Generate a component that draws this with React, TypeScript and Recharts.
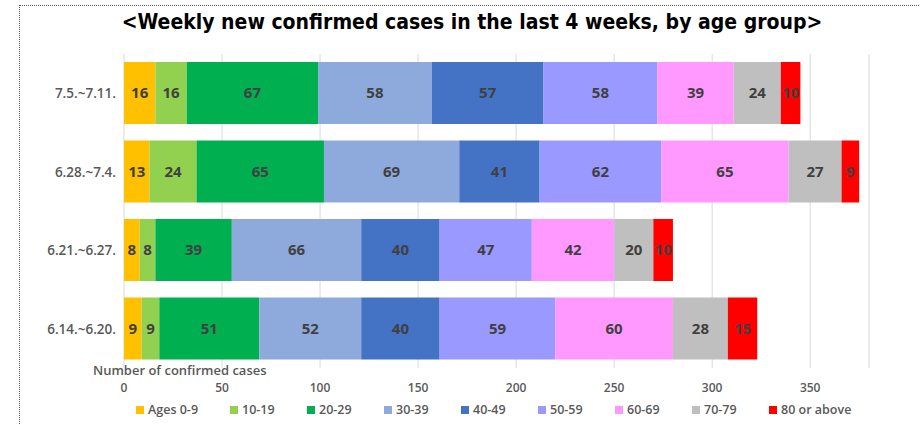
import { BarChart, Bar, XAxis, YAxis, CartesianGrid, Legend, LabelList } from 'recharts';

const WEEKS = ['7.5.~7.11.', '6.28.~7.4.', '6.21.~6.27.', '6.14.~6.20.'];

const AGES_0_9 = [16, 13, 8, 9];
const AGES_10_19 = [16, 24, 8, 9];
const AGES_20_29 = [67, 65, 39, 51];
const AGES_30_39 = [58, 69, 66, 52];
const AGES_40_49 = [57, 41, 40, 40];
const AGES_50_59 = [58, 62, 47, 59];
const AGES_60_69 = [39, 65, 42, 60];
const AGES_70_79 = [24, 27, 20, 28];
const AGES_80_UP = [10, 9, 10, 15];

const X_TICKS = [0, 50, 100, 150, 200, 250, 300, 350];

const SERIES = [
  { key: 'a0', name: 'Ages 0-9', values: AGES_0_9, color: '#FFC000' },
  { key: 'a10', name: '10-19', values: AGES_10_19, color: '#92D050' },
  { key: 'a20', name: '20-29', values: AGES_20_29, color: '#00B050' },
  { key: 'a30', name: '30-39', values: AGES_30_39, color: '#8EA9DB' },
  { key: 'a40', name: '40-49', values: AGES_40_49, color: '#4472C4' },
  { key: 'a50', name: '50-59', values: AGES_50_59, color: '#9999FF' },
  { key: 'a60', name: '60-69', values: AGES_60_69, color: '#FF99FF' },
  { key: 'a70', name: '70-79', values: AGES_70_79, color: '#BFBFBF' },
  { key: 'a80', name: '80 or above', values: AGES_80_UP, color: '#FF0000' },
];

const data = WEEKS.map((week, i) => {
  const row: Record<string, string | number> = { week };
  SERIES.forEach((s) => {
    row[s.key] = s.values[i];
  });
  return row;
});

const FONT = '"Open Sans", "Noto Sans", sans-serif';

const renderLegend = () => (
  <div style={{ display: 'flex', paddingLeft: 116, marginTop: 1, fontFamily: FONT }}>
    {SERIES.map((s) => (
      <div
        key={s.key}
        style={{
          display: 'flex',
          alignItems: 'center',
          width: s.key === 'a0' ? 94 : s.key === 'a80' ? 100 : 77,
          whiteSpace: 'nowrap',
          fontSize: 12.5,
          fontWeight: 600,
          color: '#595959',
        }}
      >
        <span style={{ width: 8, height: 8, background: s.color, marginRight: 4, display: 'inline-block' }} />
        {s.name}
      </div>
    ))}
  </div>
);

export default function App() {
  return (
    <div style={{ position: 'absolute', left: 0, top: 0, width: 920, height: 425, background: 'white' }}>
      <div
        style={{
          position: 'absolute',
          left: 19,
          top: 5,
          width: 901,
          height: 420,
          borderLeft: '1px dotted #555',
          borderTop: '1px dotted #555',
        }}
      />
      <div
        style={{
          position: 'absolute',
          top: 10,
          left: 0,
          width: 944,
          textAlign: 'center',
          fontFamily: '"DejaVu Sans", sans-serif',
          fontStretch: 'condensed',
          fontWeight: 'bold',
          fontSize: 21,
          color: '#000',
        }}
      >
        &lt;Weekly new confirmed cases in the last 4 weeks, by age group&gt;
      </div>
      <div
        style={{
          position: 'absolute',
          top: 361,
          left: 93,
          fontFamily: FONT,
          fontWeight: 600,
          fontSize: 13,
          color: '#595959',
        }}
      >
        Number of confirmed cases
      </div>
      <BarChart
        width={920}
        height={425}
        data={data}
        layout="vertical"
        barSize={62}
        margin={{ top: 54, right: 51, bottom: 1, left: 20 }}
        style={{ position: 'absolute', left: 0, top: 0 }}
      >
        <CartesianGrid horizontal={false} stroke="#D9D9D9" />
        <XAxis
          type="number"
          domain={[0, 380]}
          ticks={X_TICKS}
          axisLine={false}
          tickLine={false}
          tickMargin={9}
          height={32}
          tick={{ fill: '#595959', fontSize: 12, fontWeight: 600, fontFamily: FONT }}
        />
        <YAxis
          type="category"
          dataKey="week"
          width={104}
          axisLine={false}
          tickLine={false}
          tick={{ fill: '#595959', fontSize: 13.5, fontWeight: 600, fontFamily: FONT }}
        />
        <Legend verticalAlign="bottom" height={24} content={renderLegend} />
        {SERIES.map((s) => (
          <Bar key={s.key} dataKey={s.key} name={s.name} stackId="age" fill={s.color} isAnimationActive={false}>
            <LabelList
              dataKey={s.key}
              position="center"
              fill="#404040"
              fontSize={15}
              fontWeight="bold"
              fontFamily={FONT}
            />
          </Bar>
        ))}
      </BarChart>
    </div>
  );
}
